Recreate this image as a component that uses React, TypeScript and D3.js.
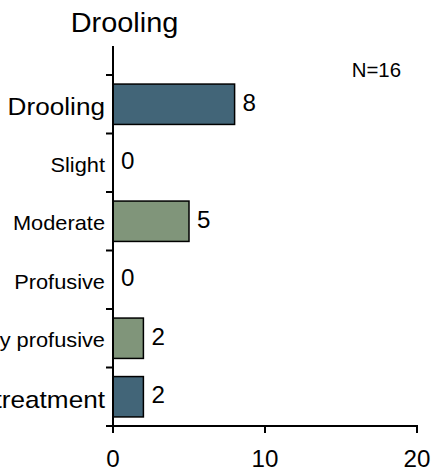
import React, { useEffect, useRef } from 'react';
import * as d3 from 'd3';

const categories = ['Drooling', 'Slight', 'Moderate', 'Profusive', 'Very profusive', 'After treatment'];
const counts = [8, 0, 5, 0, 2, 2];
const groups = ['main', 'grade', 'grade', 'grade', 'grade', 'main'];
const xTicks = [0, 10, 20];
const title = 'Drooling';
const note = 'N=16';

const App = () => {
    const svgRef = useRef<SVGSVGElement>(null);

    useEffect(() => {
        const width = 432;
        const height = 473;
        const font = '"Liberation Sans", Arial, sans-serif';

        const svg = d3.select(svgRef.current)
            .attr('width', width)
            .attr('height', height);
        svg.selectAll('*').remove();

        const x = d3.scaleLinear().domain([0, 20]).range([113, 417]);
        const y = d3.scaleBand().domain(categories).range([75, 426]).paddingInner(0.31).paddingOuter(0.155);
        const step = y.step();
        const color = d3.scaleOrdinal<string>().domain(['main', 'grade']).range(['#426578', '#80957a']);

        // the original text runs a little wider than Liberation Sans
        const place = (px: number, py: number, sx: number) => `translate(${px},${py}) scale(${sx},1)`;

        // title + N
        svg.append('text')
            .attr('transform', place(124.5, 32, 1.07))
            .attr('text-anchor', 'middle')
            .style('font-family', font)
            .style('font-size', '27px')
            .text(title);

        svg.append('text')
            .attr('transform', place(401, 77, 1.02))
            .attr('text-anchor', 'end')
            .style('font-family', font)
            .style('font-size', '20px')
            .text(note);

        // bars
        svg.selectAll('rect.bar')
            .data(categories)
            .enter()
            .append('rect')
            .attr('class', 'bar')
            .attr('x', x(0))
            .attr('y', d => y(d)!)
            .attr('width', (d, i) => x(counts[i]) - x(0))
            .attr('height', y.bandwidth())
            .attr('fill', (d, i) => color(groups[i]))
            .attr('stroke', '#000')
            .attr('stroke-width', 1.5)
            .style('display', (d, i) => counts[i] === 0 ? 'none' : null);

        // value labels
        svg.selectAll('text.val')
            .data(categories)
            .enter()
            .append('text')
            .attr('class', 'val')
            .attr('transform', (d, i) => place(x(counts[i]) + 8, y(d)! + y.bandwidth() / 2, 1.05))
            .attr('dy', '0.29em')
            .style('font-family', font)
            .style('font-size', '23px')
            .text((d, i) => counts[i]);

        // category labels
        svg.selectAll('text.cat')
            .data(categories)
            .enter()
            .append('text')
            .attr('class', 'cat')
            .attr('transform', d => place(105, y(d)! + y.bandwidth() / 2, 1.09))
            .attr('dy', '0.45em')
            .attr('text-anchor', 'end')
            .style('font-family', font)
            .style('font-size', (d, i) => groups[i] === 'main' ? '24px' : '20px')
            .text(d => d);

        // y axis line + ticks at band edges
        svg.append('line')
            .attr('x1', x(0)).attr('x2', x(0))
            .attr('y1', 46).attr('y2', 426)
            .attr('stroke', '#000').attr('stroke-width', 2);

        const edges = categories.map(c => y(c)! - step * 0.155).concat([426]);
        svg.selectAll('line.ytick')
            .data(edges)
            .enter()
            .append('line')
            .attr('class', 'ytick')
            .attr('x1', x(0) - 7).attr('x2', x(0))
            .attr('y1', d => d).attr('y2', d => d)
            .attr('stroke', '#000').attr('stroke-width', 2);

        // x axis
        svg.append('line')
            .attr('x1', x(0)).attr('x2', x(20) + 1)
            .attr('y1', 426).attr('y2', 426)
            .attr('stroke', '#000').attr('stroke-width', 2);

        svg.selectAll('line.xtick')
            .data(xTicks)
            .enter()
            .append('line')
            .attr('class', 'xtick')
            .attr('x1', d => x(d)).attr('x2', d => x(d))
            .attr('y1', 426).attr('y2', 433)
            .attr('stroke', '#000').attr('stroke-width', 2);

        svg.selectAll('text.xlab')
            .data(xTicks)
            .enter()
            .append('text')
            .attr('class', 'xlab')
            .attr('transform', d => place(x(d), 467, 1.05))
            .attr('text-anchor', 'middle')
            .style('font-family', font)
            .style('font-size', '23px')
            .text(d => d);
    }, []);

    return <svg ref={svgRef} style={{ position: 'absolute', left: 0, top: 0, display: 'block' }}></svg>;
};

export default App;
